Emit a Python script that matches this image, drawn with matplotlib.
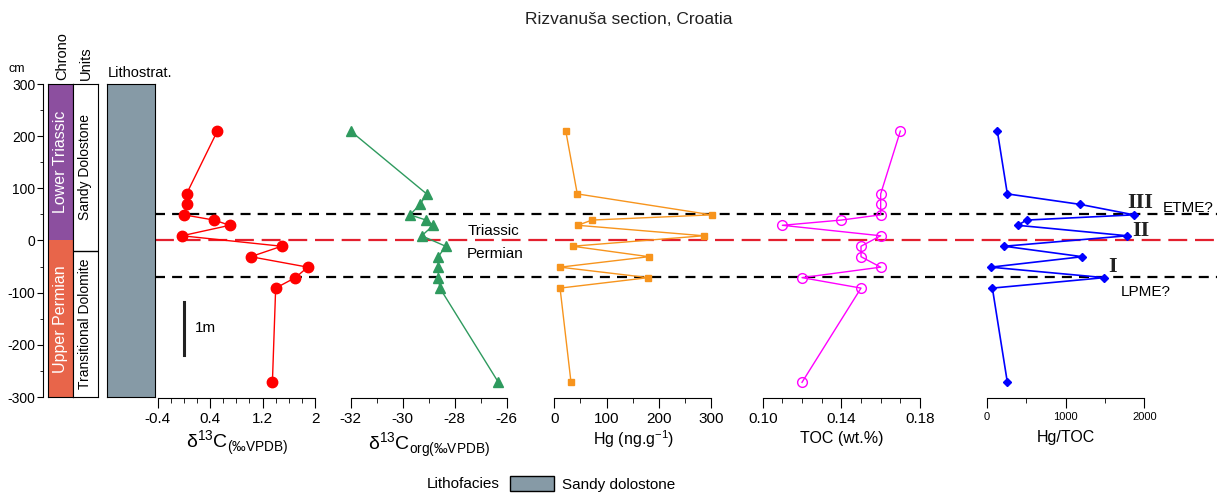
import numpy as np
import matplotlib.pyplot as plt
from matplotlib.patches import Patch
from matplotlib.ticker import FormatStrFormatter

plt.rcParams['font.family'] = ['Liberation Sans', 'DejaVu Sans']
plt.rcParams['axes.unicode_minus'] = False

W, H = 1217, 494

# sample depths (cm) and measured values
depth = [210, 90, 70, 50, 40, 30, 10, -10, -30, -50, -70, -90, -270]
d13c_carb = [0.51, 0.04, 0.04, 0.0, 0.46, 0.70, -0.03, 1.49, 1.02, 1.89, 1.70, 1.40, 1.35]
d13c_org = [-32.0, -29.08, -29.33, -29.72, -29.1, -28.82, -29.27, -28.35,
            -28.63, -28.63, -28.63, -28.57, -26.32]
hg_depth = [210, 90, 50, 40, 30, 10, -10, -30, -50, -70, -90, -270]
hg = [22, 44, 301, 72, 45, 286, 35, 181, 11, 180, 11, 32]
toc = [0.17, 0.16, 0.16, 0.16, 0.14, 0.11, 0.16, 0.15, 0.15, 0.16, 0.12, 0.15, 0.12]
hg_toc = [135, 262, 1184, 1868, 507, 393, 1783, 224, 1213, 51, 1492, 72, 262]

chrono_names = ['Lower Triassic', 'Upper Permian']
chrono_bounds = [(0, 300), (-300, 0)]
chrono_colors = ['#8C4F9F', '#E8654A']
unit_names = ['Sandy Dolostone', 'Transitional Dolomite']
unit_bounds = [(-20, 300), (-300, -20)]
event_depths = [50, -70]
boundary_depth = 0
scale_bar = (-217, -117)

litho_color = '#869AA6'


def rect(x0, x1, y0=84, y1=397):
    return [x0 / W, 1 - y1 / H, (x1 - x0) / W, (y1 - y0) / H]


fig = plt.figure(figsize=(W / 100, H / 100), dpi=100)

# event lines across the data panels (drawn underneath)
ax_ev = fig.add_axes(rect(155, 1217), zorder=0)
ax_ev.set_ylim(-300, 300)
ax_ev.set_xlim(0, 1)
ax_ev.axis('off')
for d in event_depths:
    ax_ev.axhline(d, color='black', lw=1.6, dashes=(4.5, 3.2))
ax_ev.axhline(boundary_depth, color='#E3202E', lw=1.6, dashes=(8.5, 3.5))

# depth axis
ax_d = fig.add_axes(rect(43, 43.5))
ax_d.set_ylim(-300, 300)
for s in ['top', 'right', 'bottom']:
    ax_d.spines[s].set_visible(False)
ax_d.set_xticks([])
ax_d.set_yticks(np.arange(-300, 301, 100))
ax_d.set_yticks(np.arange(-300, 301, 50), minor=True)
ax_d.tick_params(axis='y', which='major', length=4.5, labelsize=10, pad=1)
ax_d.tick_params(axis='y', which='minor', length=2.5)
fig.text(17 / W, 1 - 69 / H, 'cm', fontsize=9, ha='center', va='center')

# chrono column
ax_c = fig.add_axes(rect(48, 72.5))
ax_c.set_ylim(-300, 300)
ax_c.set_xlim(0, 1)
for name, (lo, hi), col in zip(chrono_names, chrono_bounds, chrono_colors):
    ax_c.axhspan(lo, hi, color=col, lw=0)
    ax_c.text(0.5, (lo + hi) / 2, name, rotation=90, ha='center', va='center',
              color='white', fontsize=11.5)
ax_c.set_xticks([])
ax_c.set_yticks([])

# units column
ax_u = fig.add_axes(rect(73, 97.5))
ax_u.set_ylim(-300, 300)
ax_u.set_xlim(0, 1)
for name, (lo, hi) in zip(unit_names, unit_bounds):
    if lo > -300:
        ax_u.axhline(lo, color='black', lw=1)
    ax_u.text(0.5, (lo + hi) / 2, name, rotation=90, ha='center', va='center',
              fontsize=10)
ax_u.set_xticks([])
ax_u.set_yticks([])

# lithostratigraphy column
ax_l = fig.add_axes(rect(107, 154.5))
ax_l.set_facecolor(litho_color)
ax_l.set_xticks([])
ax_l.set_yticks([])

fig.text(62 / W, 1 - 80 / H, 'Chrono', rotation=90, ha='center', va='bottom', fontsize=10.5)
fig.text(86 / W, 1 - 80 / H, 'Units', rotation=90, ha='center', va='bottom', fontsize=10.5)
fig.text(108 / W, 1 - 73 / H, 'Lithostrat.', ha='left', va='center', fontsize=10.5)

fig.text(629 / W, 1 - 20 / H, 'Rizvanuša section, Croatia', ha='center', va='center',
         fontsize=12.5, color='#222222')

# data panels: x-range in pixels, limits, major ticks, minor step, format
panels = [
    (157.7, 315, (-0.4, 2), [-0.4, 0.4, 1.2, 2], 0.2, '%g', 11),
    (350.7, 506.7, (-32, -26), [-32, -30, -28, -26], 1, '%g', 11),
    (554.3, 711, (0, 300), [0, 100, 200, 300], 50, '%g', 11),
    (762.7, 920, (0.10, 0.18), [0.10, 0.14, 0.18], 0.01, '%.2f', 11),
    (986.7, 1144.3, (0, 2000), [0, 1000, 2000], 500, '%g', 8),
]
axes = []
for x0, x1, lim, major, minor, fmt, fs in panels:
    ax = fig.add_axes(rect(x0, x1, 84, 398), zorder=1)
    ax.patch.set_alpha(0)
    ax.set_ylim(-300, 300)
    ax.set_xlim(*lim)
    for s in ['top', 'right', 'left']:
        ax.spines[s].set_visible(False)
    ax.set_yticks([])
    ax.set_xticks(major)
    ax.set_xticks(np.arange(lim[0], lim[1] + minor / 2, minor), minor=True)
    ax.xaxis.set_major_formatter(FormatStrFormatter(fmt))
    ax.tick_params(axis='x', which='major', length=7, labelsize=fs, pad=3)
    ax.tick_params(axis='x', which='minor', length=3.5)
    axes.append(ax)

ax1, ax2, ax3, ax4, ax5 = axes
ax1.plot(d13c_carb, depth, '-o', color='#FF0000', lw=1, ms=7.5, clip_on=False)
ax2.plot(d13c_org, depth, '-^', color='#2E9A5E', lw=1, ms=7.5, clip_on=False)
ax3.plot(hg, hg_depth, '-s', color='#F7941D', lw=1, ms=5, clip_on=False)
ax4.plot(toc, depth, '-o', color='#FF00FF', lw=1, ms=7, mfc='none', mew=1, clip_on=False)
ax5.plot(hg_toc, depth, '-D', color='#0000FF', lw=1.2, ms=4.5, clip_on=False)

# 1 m scale bar
ax1.plot([0, 0], list(scale_bar), color='#222222', lw=2.2)
ax1.text(0.17, np.mean(scale_bar), '1m', ha='left', va='center', fontsize=11)

ax2.text(-26.5, 19, 'Triassic', ha='center', va='center', fontsize=11, clip_on=False)
ax2.text(-26.45, -24, 'Permian', ha='center', va='center', fontsize=11, clip_on=False)

serif = ['Liberation Serif', 'DejaVu Serif']
ax5.text(1944, 72, 'III', family=serif, fontweight='bold', fontsize=16,
         ha='center', va='center', color='#222222')
ax5.text(1957, 20, 'II', family=serif, fontweight='bold', fontsize=16,
         ha='center', va='center', color='#222222')
ax5.text(1592, -50, 'I', family=serif, fontweight='bold', fontsize=16,
         ha='center', va='center', color='#222222')
ax5.text(2232, 64, 'ETME?', ha='left', va='center', fontsize=11, clip_on=False)
ax5.text(1700, -98, 'LPME?', ha='left', va='center', fontsize=11, clip_on=False)

# axis titles
fig.text(237 / W, 1 - 443 / H, r'δ$^{\mathregular{13}}$C$_{\mathregular{(‰VPDB)}}$',
         ha='center', va='center', fontsize=14)
fig.text(429 / W, 1 - 445 / H, r'δ$^{\mathregular{13}}$C$_{\mathregular{org(‰VPDB)}}$',
         ha='center', va='center', fontsize=14)
fig.text(634 / W, 1 - 439 / H, r'Hg (ng.g$^{\mathregular{-1}}$)', ha='center', va='center', fontsize=11.5)
fig.text(842 / W, 1 - 438 / H, 'TOC (wt.%)', ha='center', va='center', fontsize=11.5)
fig.text(1066 / W, 1 - 437 / H, 'Hg/TOC', ha='center', va='center', fontsize=11.5)

# lithofacies legend
fig.text(463 / W, 1 - 484 / H, 'Lithofacies', ha='center', va='center', fontsize=11)
fig.legend(handles=[Patch(facecolor=litho_color, edgecolor='black', label='Sandy dolostone')],
           loc='center left', bbox_to_anchor=(510 / W, 1 - 484 / H), frameon=False,
           fontsize=11, handlelength=2.9, handleheight=1.15, handletextpad=0.5,
           borderaxespad=0, borderpad=0)

fig.savefig('out.png', dpi=100)
